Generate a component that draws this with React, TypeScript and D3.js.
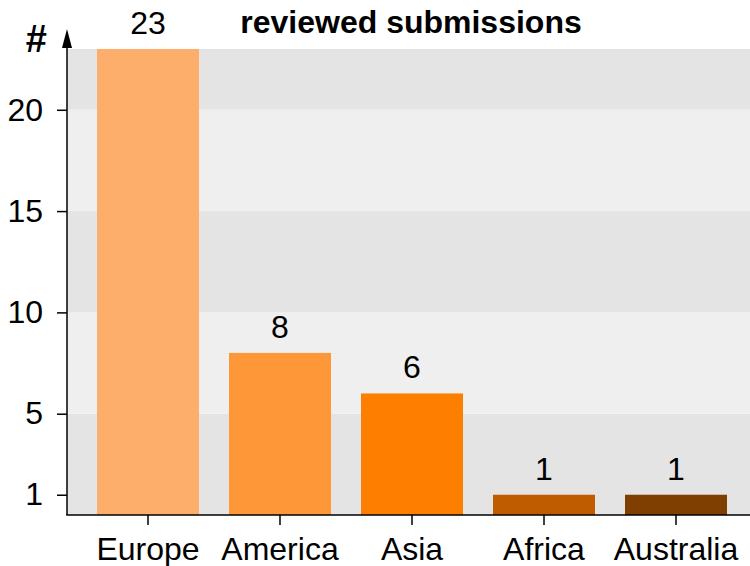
import React, { useRef, useEffect } from 'react';
import * as d3 from 'd3';

const categories = ['Europe', 'America', 'Asia', 'Africa', 'Australia'];
const submissions = [23, 8, 6, 1, 1];
const yTicks = [1, 5, 10, 15, 20];
const stripeBreaks = [0, 5, 10, 15, 20, 23];
const barColors = ['#fdae6b', '#fd9737', '#fe7f00', '#c05c00', '#7f3f00'];

const App = () => {
  const container = useRef<HTMLDivElement>(null);

  useEffect(() => {
    document.body.style.margin = '0';
    if (!container.current) return;
    d3.select(container.current).select('svg').remove();

    const width = 750;
    const height = 566;
    const left = 67;
    const right = 750;
    const top = 49;
    const bottom = 515;
    const fontSize = 32;
    const font = 'Liberation Sans, Arial, Helvetica, sans-serif';

    const svg = d3.select(container.current)
      .append('svg')
      .attr('width', width)
      .attr('height', height)
      .style('display', 'block')
      .style('font-family', font);

    const x = d3.scaleBand<string>()
      .domain(categories)
      .range([82, 742])
      .paddingInner(0.2273)
      .paddingOuter(0.1136);

    const y = d3.scaleLinear()
      .domain([0, 23])
      .range([bottom, top]);

    // striped background
    svg.append('g')
      .selectAll('rect')
      .data(d3.pairs(stripeBreaks))
      .join('rect')
      .attr('x', left)
      .attr('width', right - left)
      .attr('y', d => y(d[1]))
      .attr('height', d => y(d[0]) - y(d[1]))
      .attr('fill', (d, i) => (i % 2 === 0 ? '#e4e4e4' : '#efefef'));

    // bars
    svg.append('g')
      .selectAll('rect')
      .data(submissions)
      .join('rect')
      .attr('x', (d, i) => x(categories[i])!)
      .attr('width', x.bandwidth())
      .attr('y', d => y(d))
      .attr('height', d => y(0) - y(d))
      .attr('fill', (d, i) => barColors[i]);

    // value labels
    svg.append('g')
      .selectAll('text')
      .data(submissions)
      .join('text')
      .attr('x', (d, i) => x(categories[i])! + x.bandwidth() / 2)
      .attr('y', d => y(d) - 15)
      .attr('text-anchor', 'middle')
      .attr('font-size', fontSize)
      .attr('fill', '#000')
      .text(d => d);

    // y axis
    const yAxis = svg.append('g')
      .attr('transform', `translate(${left},0)`)
      .call(d3.axisLeft(y).tickValues(yTicks).tickSize(10).tickPadding(14).tickSizeOuter(0));
    yAxis.select('.domain').remove();
    yAxis.selectAll('line').attr('stroke', '#000').attr('stroke-width', 1.5);
    yAxis.selectAll('text')
      .attr('font-size', fontSize)
      .attr('font-family', font)
      .attr('fill', '#000');

    svg.append('line')
      .attr('x1', left).attr('x2', left)
      .attr('y1', 40).attr('y2', bottom)
      .attr('stroke', '#000')
      .attr('stroke-width', 1.5);
    svg.append('path')
      .attr('d', `M${left},29 L${left - 5},48 L${left + 5},48 Z`)
      .attr('fill', '#000');

    svg.append('text')
      .attr('x', 47)
      .attr('y', 52)
      .attr('text-anchor', 'end')
      .attr('font-size', 38)
      .attr('font-weight', 'bold')
      .text('#');

    // x axis
    const xAxis = svg.append('g')
      .attr('transform', `translate(0,${bottom})`)
      .call(d3.axisBottom(x).tickSize(10).tickPadding(12).tickSizeOuter(0));
    xAxis.select('.domain').remove();
    xAxis.selectAll('line').attr('stroke', '#000').attr('stroke-width', 1.5);
    xAxis.selectAll('text')
      .attr('font-size', fontSize)
      .attr('font-family', font)
      .attr('fill', '#000');

    svg.append('line')
      .attr('x1', left - 0.75).attr('x2', right)
      .attr('y1', bottom).attr('y2', bottom)
      .attr('stroke', '#000')
      .attr('stroke-width', 1.5);

    // title
    svg.append('text')
      .attr('x', 411)
      .attr('y', 33)
      .attr('text-anchor', 'middle')
      .attr('font-size', fontSize)
      .attr('font-weight', 'bold')
      .text('reviewed submissions');
  }, []);

  return <div ref={container}></div>;
};

export default App;
